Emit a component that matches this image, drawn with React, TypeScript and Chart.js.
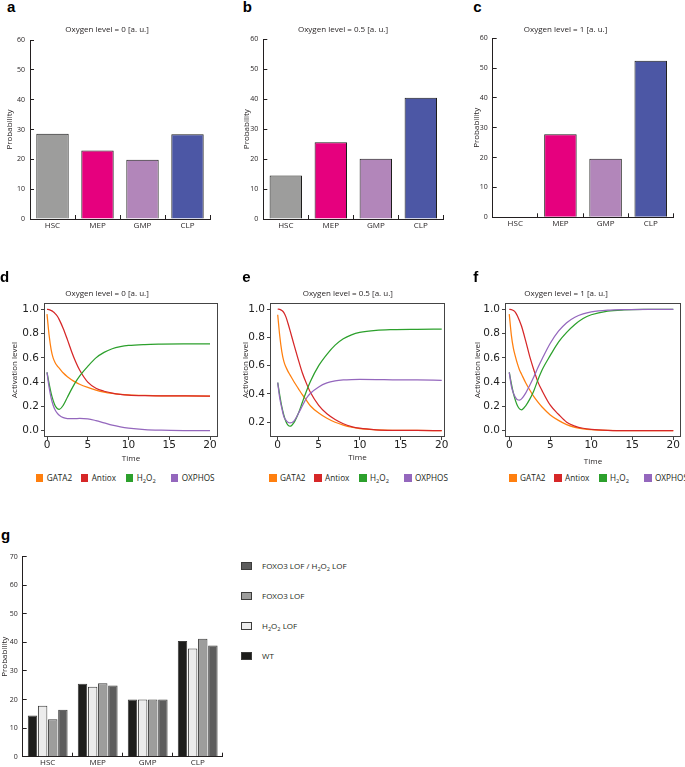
import React, { useEffect, useRef } from "react";
import { Chart, registerables } from "chart.js";
Chart.register(...registerables);

// ---------------- DATA ----------------
const cellTypes = ["HSC", "MEP", "GMP", "CLP"];
const cellColors = ["#9d9d9c", "#e6007e", "#b286ba", "#4c57a5"];
const probOxygen0 = [28.6, 23.0, 19.9, 28.4];
const probOxygen05 = [14.5, 25.6, 20.1, 40.5];
const probOxygen1 = [0, 27.8, 19.6, 52.5];

const wtProb = [14.4, 25.5, 20.0, 40.5];
const h2o2LofProb = [17.8, 24.5, 20.0, 37.9];
const foxo3LofProb = [13.1, 25.7, 20.0, 41.3];
const doubleLofProb = [16.4, 24.9, 20.0, 38.9];

const seriesNames = ["GATA2", "Antiox", "H2O2", "OXPHOS"];
const seriesColors = ["#ff7f0e", "#d62728", "#2ca02c", "#9467bd"];

const timePoints = [0, 0.25, 0.5, 0.75, 1, 1.25, 1.5, 2, 2.5, 3, 3.5, 4, 5, 6, 7, 8, 9, 10, 12, 14, 17, 20];

// Oxygen level = 0
const gata2O0 = [0.96, 0.79, 0.67, 0.6, 0.56, 0.535, 0.515, 0.475, 0.445, 0.42, 0.4, 0.383, 0.357, 0.335, 0.318, 0.307, 0.3, 0.295, 0.29, 0.287, 0.286, 0.285];
const antioxO0 = [1.0, 0.998, 0.99, 0.98, 0.965, 0.945, 0.915, 0.84, 0.75, 0.655, 0.57, 0.5, 0.4, 0.35, 0.325, 0.31, 0.3, 0.294, 0.289, 0.287, 0.286, 0.285];
const h2o2O0 = [0.48, 0.39, 0.31, 0.25, 0.205, 0.183, 0.176, 0.21, 0.275, 0.34, 0.4, 0.45, 0.53, 0.6, 0.645, 0.675, 0.692, 0.702, 0.71, 0.713, 0.715, 0.716];
const oxphosO0 = [0.48, 0.36, 0.27, 0.21, 0.17, 0.145, 0.128, 0.107, 0.1, 0.099, 0.1, 0.101, 0.098, 0.083, 0.064, 0.045, 0.031, 0.021, 0.009, 0.004, 0.001, 0.0];

// Oxygen level = 0.5
const gata2O05 = [0.96, 0.81, 0.7, 0.63, 0.59, 0.56, 0.535, 0.485, 0.44, 0.395, 0.355, 0.315, 0.265, 0.228, 0.2, 0.18, 0.165, 0.155, 0.147, 0.143, 0.142, 0.141];
const antioxO05 = [1.0, 0.998, 0.99, 0.975, 0.945, 0.9, 0.85, 0.745, 0.645, 0.55, 0.475, 0.41, 0.32, 0.26, 0.22, 0.19, 0.17, 0.158, 0.147, 0.143, 0.142, 0.141];
const h2o2O05 = [0.48, 0.39, 0.31, 0.25, 0.205, 0.18, 0.172, 0.2, 0.26, 0.34, 0.42, 0.49, 0.6, 0.68, 0.745, 0.79, 0.818, 0.835, 0.85, 0.855, 0.857, 0.858];
const oxphosO05 = [0.48, 0.37, 0.3, 0.24, 0.215, 0.2, 0.195, 0.21, 0.26, 0.315, 0.37, 0.405, 0.45, 0.478, 0.492, 0.499, 0.502, 0.503, 0.502, 0.5, 0.499, 0.497];

// Oxygen level = 1
const gata2O1 = [0.96, 0.79, 0.68, 0.61, 0.55, 0.5, 0.465, 0.395, 0.335, 0.28, 0.235, 0.195, 0.13, 0.085, 0.05, 0.028, 0.015, 0.008, 0.002, 0.0005, 0, 0];
const antioxO1 = [1.0, 0.998, 0.99, 0.975, 0.945, 0.905, 0.86, 0.74, 0.61, 0.5, 0.4, 0.33, 0.21, 0.135, 0.07, 0.038, 0.02, 0.011, 0.003, 0.001, 0, 0];
const h2o2O1 = [0.48, 0.39, 0.31, 0.25, 0.205, 0.18, 0.172, 0.205, 0.26, 0.33, 0.42, 0.5, 0.62, 0.73, 0.81, 0.875, 0.925, 0.955, 0.985, 0.995, 0.999, 1.0];
const oxphosO1 = [0.48, 0.37, 0.31, 0.275, 0.255, 0.252, 0.262, 0.31, 0.375, 0.445, 0.52, 0.59, 0.72, 0.82, 0.89, 0.935, 0.962, 0.978, 0.993, 0.998, 1.0, 1.0];

// ---------------- STYLE HELPERS ----------------
const illus = "'Open Sans', sans-serif";
const txtColor = "#231f20";

function fixY(w: number) {
  return (s: any) => {
    s.width = w;
    s.paddingTop = 0; s.paddingBottom = 0; s.paddingLeft = 0; s.paddingRight = 0;
  };
}
function fixX(h: number) {
  return (s: any) => {
    s.height = h;
    s.paddingTop = 0; s.paddingBottom = 0; s.paddingLeft = 0; s.paddingRight = 0;
  };
}

const framePlugin = {
  id: "frame",
  afterDraw(chart: any) {
    const { ctx, chartArea: a } = chart;
    ctx.save();
    ctx.strokeStyle = "#444";
    ctx.lineWidth = 1;
    const l = Math.round(a.left) + 0.5;
    const t = Math.round(a.top) + 0.5;
    ctx.strokeRect(l, t, Math.round(a.right) - 0.5 - l, Math.round(a.bottom) - 0.5 - t);
    ctx.restore();
  },
};

type Lay = { yWidth: number; padTop: number; padRight: number; xHeight: number; titlePad: number; labelPad: number };

function barAxes(yMax: number, o: Lay) {
  return {
    x: {
      grid: { display: true, drawOnChartArea: false, drawTicks: true, tickLength: -4, color: txtColor, lineWidth: 1, offset: true },
      border: { display: true, color: txtColor, width: 1 },
      ticks: { font: { family: illus, size: 8 }, color: txtColor, padding: o.labelPad, maxRotation: 0, autoSkip: false },
      afterFit: fixX(o.xHeight),
    },
    y: {
      min: 0,
      max: yMax,
      ticks: { stepSize: 10, font: { family: illus, size: 7 }, color: txtColor, padding: 9 },
      grid: { display: true, drawOnChartArea: false, drawTicks: true, tickLength: -4, color: txtColor, lineWidth: 1 },
      border: { display: true, color: txtColor, width: 1 },
      title: { display: true, text: "Probability", font: { family: illus, size: 8 }, color: txtColor, padding: { top: o.titlePad, bottom: 0 } },
      afterFit: fixY(o.yWidth),
    },
  };
}

function barConfig(values: number[], o: Lay): any {
  return {
    type: "bar",
    data: {
      labels: cellTypes,
      datasets: [
        {
          data: values,
          backgroundColor: cellColors,
          borderColor: "#1d1d1b",
          borderWidth: 1,
          barPercentage: 0.72,
          categoryPercentage: 1,
        },
      ],
    },
    options: {
      animation: false,
      responsive: false,
      events: [],
      layout: { padding: { left: 0, top: o.padTop, right: o.padRight, bottom: 0 } },
      plugins: { legend: { display: false }, tooltip: { enabled: false }, title: { display: false } },
      scales: barAxes(60, o),
    },
  };
}

function groupConfig(o: Lay): any {
  const sets = [
    { label: "WT", data: wtProb, color: "#1d1d1b" },
    { label: "H2O2 LOF", data: h2o2LofProb, color: "#ececec" },
    { label: "FOXO3 LOF", data: foxo3LofProb, color: "#9d9d9c" },
    { label: "FOXO3 LOF / H2O2 LOF", data: doubleLofProb, color: "#5d5d5d" },
  ];
  return {
    type: "bar",
    data: {
      labels: cellTypes,
      datasets: sets.map((s) => ({
        label: s.label,
        data: s.data,
        backgroundColor: s.color,
        borderColor: "#3c3c3b",
        borderWidth: 1,
        barPercentage: 0.93,
        categoryPercentage: 0.81,
      })),
    },
    options: {
      animation: false,
      responsive: false,
      events: [],
      layout: { padding: { left: 0, top: o.padTop, right: o.padRight, bottom: 0 } },
      plugins: { legend: { display: false }, tooltip: { enabled: false } },
      scales: barAxes(70, o),
    },
  };
}

type LineLay = {
  yWidth: number; padTop: number; padRight: number; xHeight: number;
  xMin: number; xMax: number; yMin: number; yMax: number; titlePad: number; timePad: number;
};

function lineConfig(vals: number[][], o: LineLay): any {
  const tickFont = { family: "'DejaVu Sans', sans-serif", size: 10.5, lineHeight: 1 };
  return {
    type: "line",
    data: {
      datasets: vals.map((v, i) => ({
        label: seriesNames[i],
        data: v.map((y, k) => ({ x: timePoints[k], y })),
        borderColor: seriesColors[i],
        borderWidth: 1.25,
        pointRadius: 0,
        fill: false,
        cubicInterpolationMode: "monotone",
        order: 3 - i,
      })),
    },
    options: {
      animation: false,
      responsive: false,
      events: [],
      layout: { padding: { left: 0, top: o.padTop, right: o.padRight, bottom: 0 } },
      plugins: { legend: { display: false }, tooltip: { enabled: false } },
      scales: {
        x: {
          type: "linear",
          min: o.xMin,
          max: o.xMax,
          ticks: { stepSize: 5, includeBounds: false, font: tickFont, color: "#222", padding: -0.3, maxRotation: 0, autoSkip: false, callback: (v: any) => String(v) },
          grid: { display: true, drawOnChartArea: false, drawTicks: true, tickLength: 3, color: "#444" },
          border: { display: false },
          title: { display: true, text: "Time", font: { family: illus, size: 8 }, color: txtColor, padding: { top: 0, bottom: o.timePad } },
          afterFit: fixX(o.xHeight),
        },
        y: {
          min: o.yMin,
          max: o.yMax,
          ticks: { stepSize: 0.2, includeBounds: false, font: tickFont, color: "#222", padding: 2, callback: (v: any) => Number(v).toFixed(1) },
          grid: { display: true, drawOnChartArea: false, drawTicks: true, tickLength: 3, color: "#444" },
          border: { display: false },
          title: { display: true, text: "Activation level", font: { family: illus, size: 8 }, color: txtColor, padding: { top: o.titlePad, bottom: 0 } },
          afterFit: fixY(o.yWidth),
        },
      },
    },
    plugins: [framePlugin],
  };
}

// ---------------- COMPONENTS ----------------
function ChartCanvas({ x, y, w, h, make }: { x: number; y: number; w: number; h: number; make: () => any }) {
  const ref = useRef<HTMLCanvasElement>(null);
  useEffect(() => {
    const chart = new Chart(ref.current as HTMLCanvasElement, make());
    return () => chart.destroy();
  }, []);
  return <canvas ref={ref} width={w} height={h} style={{ position: "absolute", left: x, top: y, width: w, height: h }} />;
}

function Txt({ x, y, children, size = 8, align = "center", family = illus, weight = 400, color = txtColor }: any) {
  return (
    <div
      style={{
        position: "absolute",
        left: x,
        top: y,
        transform: align === "center" ? "translate(-50%, -50%)" : "translate(0, -50%)",
        fontFamily: family,
        fontSize: size,
        fontWeight: weight,
        color,
        lineHeight: 1,
        whiteSpace: "nowrap",
      }}
    >
      {children}
    </div>
  );
}

function Letter({ x, baseline, ch }: { x: number; baseline: number; ch: string }) {
  return (
    <div
      style={{
        position: "absolute",
        left: x,
        top: baseline - 12.7,
        fontFamily: "'Liberation Sans', Arial, sans-serif",
        fontWeight: 700,
        fontSize: 15,
        lineHeight: 1,
        color: "#000",
      }}
    >
      {ch}
    </div>
  );
}

const Sub = ({ children }: any) => (
  <span style={{ fontSize: "0.7em", verticalAlign: "-0.3em", lineHeight: 0 }}>{children}</span>
);
const H2O2 = () => (
  <>
    H<Sub>2</Sub>O<Sub>2</Sub>
  </>
);

function LineLegend({ x0, y }: { x0: number; y: number }) {
  return (
    <>
      {seriesNames.map((n, i) => (
        <React.Fragment key={n}>
          <div
            style={{
              position: "absolute",
              left: x0 + i * 45,
              top: y - 3.7,
              width: 7.4,
              height: 7.4,
              background: seriesColors[i],
            }}
          />
          <Txt x={x0 + i * 45 + 10.7} y={y} align="left" size={8.2}>
            {n === "H2O2" ? <H2O2 /> : n}
          </Txt>
        </React.Fragment>
      ))}
    </>
  );
}

const groupLegend = [
  { color: "#5d5d5d", label: <>FOXO3 LOF / <H2O2 /> LOF</> },
  { color: "#9d9d9c", label: <>FOXO3 LOF</> },
  { color: "#ececec", label: <><H2O2 /> LOF</> },
  { color: "#1d1d1b", label: <>WT</> },
];
const groupLegendY = [565.7, 595.7, 626, 656];

export default function App() {
  return (
    <div
      style={{
        position: "absolute",
        left: 0,
        top: 0,
        width: 685,
        height: 767,
        overflow: "hidden",
        background: "#fff",
        fontFamily: illus,
      }}
    >
      {/* Row 1: bar panels */}
      <ChartCanvas x={0} y={30} w={222} h={205}
        make={() => barConfig(probOxygen0, { yWidth: 30, padTop: 10, padRight: 12, xHeight: 16, titlePad: 5.2, labelPad: 5.5 })} />
      <ChartCanvas x={232} y={30} w={222} h={205}
        make={() => barConfig(probOxygen05, { yWidth: 31.3, padTop: 9.3, padRight: 10.7, xHeight: 16, titlePad: 9.9, labelPad: 5.5 })} />
      <ChartCanvas x={457} y={28} w={228} h={207}
        make={() => barConfig(probOxygen1, { yWidth: 35.7, padTop: 10.3, padRight: 11.7, xHeight: 17.7, titlePad: 14.9, labelPad: 5.5 })} />

      <Letter x={7} baseline={11.7} ch="a" />
      <Letter x={242.7} baseline={11.7} ch="b" />
      <Letter x={473.3} baseline={11.7} ch="c" />
      <Txt x={107} y={29.3}>Oxygen level = 0 [a. u.]</Txt>
      <Txt x={343} y={29.3}>Oxygen level = 0.5 [a. u.]</Txt>
      <Txt x={565.5} y={29.3}>Oxygen level = 1 [a. u.]</Txt>

      {/* Row 2: time courses */}
      <ChartCanvas x={0} y={280} w={222} h={190}
        make={() => lineConfig([gata2O0, antioxO0, h2o2O0, oxphosO0], { yWidth: 44, padTop: 23, padRight: 4, xHeight: 33, xMin: -0.37, xMax: 20.98, yMin: -0.052, yMax: 1.052, titlePad: 10.2, timePad: 6.9 })} />
      <ChartCanvas x={225} y={280} w={225} h={190}
        make={() => lineConfig([gata2O05, antioxO05, h2o2O05, oxphosO05], { yWidth: 45, padTop: 23, padRight: 5, xHeight: 33, xMin: -0.94, xMax: 20.4, yMin: 0.096, yMax: 1.043, titlePad: 15.9, timePad: 7.2 })} />
      <ChartCanvas x={455} y={280} w={230} h={190}
        make={() => lineConfig([gata2O1, antioxO1, h2o2O1, oxphosO1], { yWidth: 50, padTop: 23, padRight: 4, xHeight: 33, xMin: -0.52, xMax: 20.94, yMin: -0.052, yMax: 1.052, titlePad: 18.2, timePad: 3.5 })} />

      <Letter x={0} baseline={281.7} ch="d" />
      <Letter x={242.3} baseline={281.7} ch="e" />
      <Letter x={473.3} baseline={281.3} ch="f" />
      <Txt x={107} y={293.3}>Oxygen level = 0 [a. u.]</Txt>
      <Txt x={347.8} y={293.3}>Oxygen level = 0.5 [a. u.]</Txt>
      <Txt x={566} y={293.3}>Oxygen level = 1 [a. u.]</Txt>
      <LineLegend x0={36} y={478} />
      <LineLegend x0={269.3} y={478} />
      <LineLegend x0={509.3} y={478} />

      {/* Row 3: grouped bars */}
      <ChartCanvas x={0} y={545} w={228} h={222}
        make={() => groupConfig({ yWidth: 22.7, padTop: 11.7, padRight: 5.3, xHeight: 10.3, titlePad: 0.2, labelPad: 5.2 })} />
      <Letter x={1} baseline={540} ch="g" />
      {groupLegend.map((g, i) => (
        <React.Fragment key={i}>
          <div
            style={{
              position: "absolute",
              left: 241,
              top: groupLegendY[i] - 4,
              width: 10.5,
              height: 8,
              boxSizing: "border-box",
              background: g.color,
              border: "1px solid #3c3c3b",
            }}
          />
          <Txt x={262} y={groupLegendY[i]} align="left">{g.label}</Txt>
        </React.Fragment>
      ))}
    </div>
  );
}
